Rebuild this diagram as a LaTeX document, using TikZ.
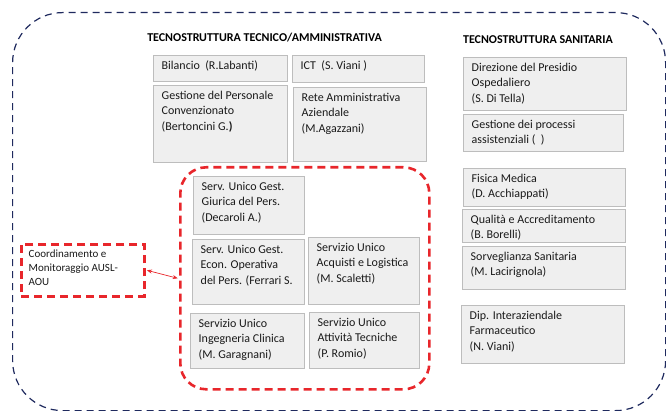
\documentclass[tikz,border=0pt]{standalone}
\usepackage{fontspec}
\setmainfont{Carlito}
\usepackage{tikz}
\usetikzlibrary{positioning,%
  arrows,%
  arrows.meta%
}

\definecolor{unitfill}{HTML}{EFEFEF}
\definecolor{unitline}{HTML}{BDBDBD}
\definecolor{grpred}{HTML}{E8262B}
\definecolor{framenavy}{HTML}{1F2A5E}
\definecolor{inktext}{HTML}{1A1A1A}

\tikzset{
  unit/.style={draw=unitline, fill=unitfill, line width=0.8pt, anchor=north west, inner sep=0pt},
  unittext/.style={anchor=north west, align=left, inner xsep=8.5pt, inner ysep=6pt, text=inktext,
    font=\fontsize{12}{15.3}\selectfont},
  grp/.style={draw=grpred, line width=2.6pt, dash pattern=on 8pt off 5pt, anchor=north west, inner sep=0pt},
  title/.style={font=\fontsize{12}{14}\selectfont\bfseries, text=black}
}

% box with its text in the top left corner
\newcommand{\orgunit}[6]{%
  \node[unit, minimum width=#4pt, minimum height=#5pt] (#1) at (#2,#3) {};
  \node[unittext] (#1-txt) at (#1.north west) {#6};
}

\begin{document}
\begin{tikzpicture}[x=1pt, y=-1pt]
            \useasboundingbox (0,0) rectangle (666,411);
            \node[draw=framenavy, line width=1.2pt, dash pattern=on 7pt off 5pt, rounded corners=50pt,
              anchor=north west, minimum width=653pt, minimum height=398pt, inner sep=0pt] (frame) at (12,12) {};
            
            \node[title] (tecamm) at (264.5,37.5) {TECNOSTRUTTURA TECNICO/AMMINISTRATIVA};
            \node[title] (tecsan) at (538,40) {TECNOSTRUTTURA SANITARIA};
            
            % tecnico/amministrativa
            \orgunit{bil}{153}{55}{134}{26}{Bilancio\ \ (R.Labanti)}
            \orgunit{ict}{292}{55}{132}{27}{ICT\ \ (S. Viani )}
            \orgunit{gestpers}{153}{85}{134}{77}{Gestione del Personale\\Convenzionato\\(Bertoncini G.{\bfseries)}}
            \orgunit{rete}{293}{87}{133}{74}{Rete Amministrativa\\Aziendale\\(M.Agazzani)}
            
            % servizi unici
            \node[grp, rounded corners=26pt, minimum width=249pt, minimum height=222pt] (ausl) at (179,166) {};
            \orgunit{decaroli}{193}{176}{111}{58}{Serv. Unico Gest.\\Giurica del Pers.\\(Decaroli A.)}
            \orgunit{ferrari}{192}{239}{112}{65}{Serv. Unico Gest.\\Econ. Operativa\\del Pers. (Ferrari S.}
            \orgunit{scaletti}{308}{237}{111}{67}{Servizio Unico\\Acquisti e Logistica\\(M. Scaletti)}
            \orgunit{garagnani}{190}{313}{114}{55}{Servizio Unico\\Ingegneria Clinica\\(M. Garagnani)}
            \orgunit{romio}{309}{312}{110}{56}{Servizio Unico\\Attività Tecniche\\(P. Romio)}
            
            \node[grp, minimum width=123pt, minimum height=52pt] (coord) at (20,243) {};
            \node[unittext, font=\fontsize{11}{14}\selectfont, inner ysep=7pt] (coord-txt) at (coord.north west)
              {Coordinamento e\\Monitoraggio AUSL-\\AOU};
            \draw[{Stealth[length=5pt,width=4pt]}-{Stealth[length=5pt,width=4pt]}, grpred, line width=0.7pt]
              ([xshift=1.3pt]coord.east) -- ([xshift=-1.3pt]ausl.west);
            
            % sanitaria
            \orgunit{direzione}{463}{57}{163}{53}{Direzione del Presidio\\Ospedaliero\\(S. Di Tella)}
            \orgunit{processi}{463}{114}{160}{37}{Gestione dei processi\\assistenziali (\ \ )}
            \orgunit{fisica}{463}{168}{162}{38}{Fisica Medica\\(D. Acchiappati)}
            \orgunit{qualita}{462}{209}{163}{33}{Qualità e Accreditamento\\(B. Borelli)}
            \orgunit{sorveglianza}{462}{246}{163}{43}{Sorveglianza Sanitaria\\(M. Lacirignola)}
            \orgunit{farmaceutico}{461}{305}{163}{58}{Dip. Interaziendale\\Farmaceutico\\(N. Viani)}
        \end{tikzpicture}
\end{document}
